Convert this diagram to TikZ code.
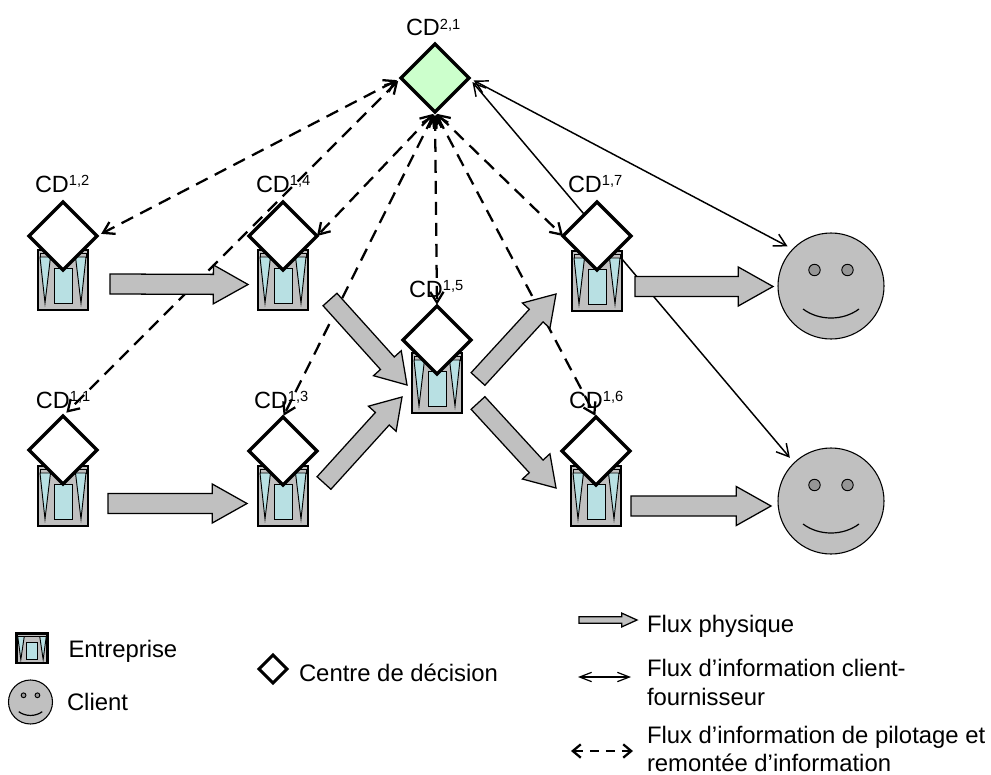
\documentclass[tikz,border=0pt]{standalone}
\usepackage{fontspec}
\setmainfont{Liberation Sans}
\usetikzlibrary{shapes.geometric,arrows.meta,calc}
\definecolor{boxgray}{HTML}{C0C0C0}
\definecolor{eyegray}{HTML}{969696}
\definecolor{iceblue}{HTML}{B8E0E3}
\definecolor{mint}{HTML}{CCFFCC}
\newcommand{\entw}{1.7pt}
\newcommand{\fluxarrow}[6][]{%
  \coordinate (fa) at ($(#3)!#6!(#2)$);
  \draw[fluxstyle,#1] ($(#2)!#4!90:(#3)$) -- ($(fa)!#4!90:(#3)$) -- ($(fa)!#5!90:(#3)$) -- (#3)
    -- ($(fa)!#5!-90:(#3)$) -- ($(fa)!#4!-90:(#3)$) -- ($(#2)!#4!-90:(#3)$) -- cycle;}
\newcommand{\cdlabel}[4]{\node[cdtext] (#1) at (#2,#3) {CD\raisebox{5pt}{\fontsize{11pt}{13pt}\selectfont #4}};}
\tikzset{
  x=0.75pt, y=-0.75pt,
  fluxstyle/.style={draw=black,fill=boxgray,line width=0.95pt,line join=miter},
  cdtext/.style={anchor=base west,inner sep=0pt,outer sep=0pt,font=\fontsize{17.6pt}{20pt}\selectfont},
  legendtext/.style={anchor=base west,inner sep=0pt,outer sep=0pt,font=\fontsize{17.9pt}{20pt}\selectfont},
  decision/.style={shape=diamond,aspect=1,draw=black,fill=white,line width=2.6pt,inner sep=0pt,outer sep=0pt,minimum width=51pt,minimum height=51pt},
  pilot/.style={dash pattern=on 9.75pt off 6pt,line width=1.7pt,{Straight Barb[length=8pt,width=10pt]}-{Straight Barb[length=8pt,width=10pt]}},
  clientflux/.style={line width=1.1pt,{Straight Barb[length=9pt,width=10pt]}-{Straight Barb[length=9pt,width=10pt]}},
  clientcircle/.style={shape=circle,draw=black,fill=boxgray,line width=0.8pt,inner sep=0pt,outer sep=0pt},
  entreprise/.pic={
    \draw[fill=boxgray,line width=\entw] (-25,0) rectangle (25,60);
    \draw[fill=boxgray,line width=.6pt] (-23,3) rectangle (23,7);
    \draw[fill=iceblue,line width=.7pt] (-23,7) -- (-12.5,7) -- (-18,53) -- cycle;
    \draw[fill=iceblue,line width=.7pt] (23,7) -- (12.5,7) -- (18,53) -- cycle;
    \draw[fill=iceblue,line width=.7pt] (-9,18) rectangle (9,53);
  },
  smiley/.pic={
    \draw[fill=eyegray,line width=.7pt] (-16.5,-16) circle (5.7);
    \draw[fill=eyegray,line width=.7pt] (16.5,-16) circle (5.7);
    \draw[line width=.9pt] (-28,23) .. controls (-12,35) and (12,35) .. (28,23);
  }
}
\begin{document}
\begin{tikzpicture}
\useasboundingbox (0,0) rectangle (991,774);
% clients
\node[clientcircle,minimum size=79.5pt] (c1) at (831,286) {};
\node[clientcircle,minimum size=79.5pt] (c2) at (831,501) {};
\pic at (831,286) {smiley};
\pic at (831,501) {smiley};
% decision nodes
\node[decision,fill=mint] (d21) at (435,78) {};
\path (63,236) node[decision,fill=none,draw=none] (d12) {}
      (283,236) node[decision,fill=none,draw=none] (d14) {}
      (63,450) node[decision,fill=none,draw=none] (d11) {}
      (283,451) node[decision,fill=none,draw=none] (d13) {}
      (437,340) node[decision,fill=none,draw=none] (d15) {}
      (597,236) node[decision,fill=none,draw=none] (d17) {}
      (596,451) node[decision,fill=none,draw=none] (d16) {};
% labels
\cdlabel{l21}{406}{36}{2,1}
\cdlabel{l12}{35}{192}{1,2}
\cdlabel{l14}{256}{192}{1,4}
\cdlabel{l11}{36}{408}{1,1}
\cdlabel{l13}{254}{408}{1,3}
\cdlabel{l15}{409}{297}{1,5}
\cdlabel{l17}{568}{192}{1,7}
\cdlabel{l16}{569}{408}{1,6}
% information flows
\draw[pilot,shorten <=3.5pt,shorten >=3.5pt] (d21.west) -- (d12.east);
\draw[pilot,shorten <=3pt,shorten >=3.5pt] (d21.west) -- (d11.north);
\draw[pilot,shorten <=2pt,shorten >=0pt] (d21.south) -- (d14.east);
\draw[pilot,shorten <=2pt,shorten >=1pt] (d21.south) -- (d13.north);
\draw[pilot,shorten <=2pt,shorten >=1pt] (d21.south) -- (d15.north);
\draw[pilot,shorten <=2pt,shorten >=0pt] (d21.south) -- (d17.west);
\draw[pilot,shorten <=2pt,shorten >=1pt] (d21.south) -- (d16.north);
\draw[clientflux,shorten <=4pt,shorten >=4.5pt] (d21.east) -- (c1.136);
\draw[clientflux,shorten <=4pt,shorten >=5pt] (d21.east) -- (c2.134);
% enterprises
\pic at (63,250) {entreprise};
\pic at (283,250) {entreprise};
\pic at (63,466) {entreprise};
\pic at (283,466) {entreprise};
\pic at (437,353) {entreprise};
\pic at (597,251) {entreprise};
\pic at (596,466) {entreprise};
% diamonds above enterprises
\foreach \n in {12,14,11,13,15,17,16}{
  \node[decision] at (d\n) {};
}
% physical flows
\coordinate (p1a) at (110,284); \coordinate (p1b) at (248,284.5);
\coordinate (p2a) at (108,503.5); \coordinate (p2b) at (247,503.5);
\coordinate (p3a) at (330,299.5); \coordinate (p3b) at (407,385);
\coordinate (p4a) at (324,483); \coordinate (p4b) at (402,397);
\coordinate (p5a) at (478,379); \coordinate (p5b) at (556,294);
\coordinate (p6a) at (478,403); \coordinate (p6b) at (556,488);
\coordinate (p7a) at (635,286.5); \coordinate (p7b) at (773,286.5);
\coordinate (p8a) at (631,506); \coordinate (p8b) at (771,506);
\fluxarrow{p1a}{p1b}{7.5pt}{14.6pt}{26pt}
\fluxarrow{p2a}{p2b}{7.5pt}{14.6pt}{26pt}
\fluxarrow{p3a}{p3b}{7pt}{14pt}{22pt}
\fluxarrow{p4a}{p4b}{7pt}{14pt}{22pt}
\fluxarrow{p5a}{p5b}{7pt}{14pt}{22pt}
\fluxarrow{p6a}{p6b}{7pt}{14pt}{22pt}
\fluxarrow{p7a}{p7b}{7.5pt}{14.6pt}{26pt}
\fluxarrow{p8a}{p8b}{7.5pt}{14.6pt}{26pt}
% legend
\begin{scope}
\renewcommand{\entw}{2.2pt}
\pic[xscale=.62,yscale=.5] at (32,633) {entreprise};
\end{scope}
\node[legendtext] (tEnt) at (68.5,657) {Entreprise};
\node[clientcircle,minimum size=33pt] (lc) at (30.5,702) {};
\pic[scale=.42] at (30.5,702) {smiley};
\node[legendtext] (tCli) at (67,710) {Client};
\node[decision,minimum width=21pt,minimum height=21pt,line width=2.2pt] (ld) at (273,669) {};
\node[legendtext] (tCen) at (299,681) {Centre de décision};
\coordinate (lp1) at (579,620); \coordinate (lp2) at (637,620);
\fluxarrow{lp1}{lp2}{2.4pt}{5.2pt}{11.5pt}
\node[legendtext] (tF1) at (647,632) {Flux physique};
\coordinate (li1) at (578,677); \coordinate (li2) at (631,677);
\draw[line width=.9pt,{Straight Barb[length=9pt,width=7pt]}-{Straight Barb[length=9pt,width=7pt]}] (li1) -- (li2);
\node[legendtext] (tF2) at (647,676) {Flux d’information client-};
\node[legendtext] (tF2b) at (647,705) {fournisseur};
\coordinate (lq1) at (571,751); \coordinate (lq2) at (633,751);
\draw[line width=1.7pt,dash pattern=on 7pt off 5pt,{Straight Barb[length=6pt,width=10pt]}-{Straight Barb[length=6pt,width=10pt]}] (lq1) -- (lq2);
\node[legendtext] (tF3) at (647,743) {Flux d’information de pilotage et};
\node[legendtext] (tF3b) at (647,771) {remontée d’information};
\end{tikzpicture}
\end{document}
